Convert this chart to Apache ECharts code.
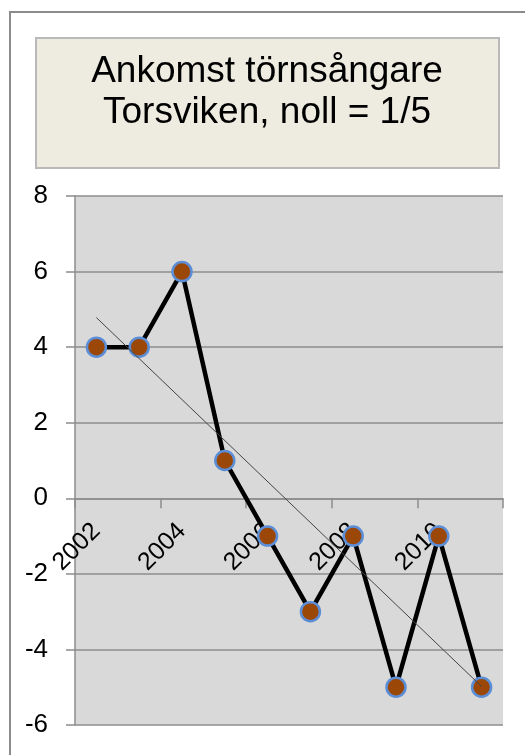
<!DOCTYPE html>
<html>
<head>
<meta charset="utf-8">
<script src="https://cdn.jsdelivr.net/npm/echarts@6/dist/echarts.min.js"></script>
<style>html,body{margin:0;padding:0;background:#fff;}#c{width:525px;height:755px;}</style>
</head>
<body>
<div id="c"></div>
<script>
const years = ['2002','2003','2004','2005','2006','2007','2008','2009','2010','2011'];
const arrival = [4, 4, 6, 1, -1, -3, -1, -5, -1, -5];
const yTicks = { min: -6, max: 8, interval: 2 };
const titleLines = ['Ankomst törnsångare', 'Torsviken, noll = 1/5'];

// least-squares linear trend of the data (as Excel's trendline)
const n = arrival.length;
const mx = (n - 1) / 2;
const my = arrival.reduce((a, b) => a + b, 0) / n;
let sxy = 0, sxx = 0;
arrival.forEach((v, i) => { sxy += (i - mx) * (v - my); sxx += (i - mx) * (i - mx); });
const slope = sxy / sxx;
const icpt = my - slope * mx;
const trend = [[0, icpt], [n - 1, icpt + slope * (n - 1)]];

const FONT = '"Liberation Sans", Arial, sans-serif';
const GRID = { left: 75, top: 196, right: 22, bottom: 30 };
const plotH = 755 - GRID.top - GRID.bottom;
// distance from bottom of plot to the zero line, so the category axis crosses at 0
const zeroOffset = -plotH * (0 - yTicks.min) / (yTicks.max - yTicks.min);

const chart = echarts.init(document.getElementById('c'), null, { renderer: 'canvas' });
chart.setOption({
  animation: false,
  backgroundColor: '#ffffff',
  graphic: [
    { type: 'rect', shape: { x: 10, y: 12, width: 700, height: 900 },
      style: { fill: 'none', stroke: '#8c8c8c', lineWidth: 2 }, z: 0 },
    { type: 'rect', shape: { x: 36, y: 38, width: 463, height: 130 },
      style: { fill: '#eeece1', stroke: '#b9b9b9', lineWidth: 2 }, z: 1 },
    { type: 'text', x: 267, y: 92, z: 2,
      style: { text: titleLines.join('\n'), font: '37px ' + FONT, fill: '#000',
               align: 'center', verticalAlign: 'middle', lineHeight: 41 } }
  ],
  grid: Object.assign({ show: true, backgroundColor: '#d9d9d9', borderWidth: 0,
          containLabel: false, outerBoundsMode: 'none' }, GRID),
  xAxis: {
    type: 'category', data: years, boundaryGap: true, position: 'bottom',
    offset: zeroOffset,
    axisLine: { onZero: false, lineStyle: { color: '#8c8c8c', width: 1.5 } },
    axisTick: { show: true, interval: 1, length: 10, lineStyle: { color: '#8c8c8c', width: 1.5 } },
    axisLabel: { interval: 1, rotate: 45, margin: 29, fontSize: 25, fontFamily: FONT, color: '#000' },
    splitLine: { show: false }
  },
  yAxis: {
    type: 'value', min: yTicks.min, max: yTicks.max, interval: yTicks.interval,
    axisLine: { show: true, onZero: false, lineStyle: { color: '#8c8c8c', width: 1.5 } },
    axisTick: { show: true, length: 9, lineStyle: { color: '#8c8c8c', width: 1.5 } },
    axisLabel: { margin: 27, fontSize: 26, fontFamily: FONT, color: '#000' },
    splitLine: { show: true, lineStyle: { color: '#8c8c8c', width: 1.5 } }
  },
  series: [
    { type: 'line', data: arrival, z: 3,
      lineStyle: { color: '#000', width: 4.5 },
      symbol: 'circle', symbolSize: 19,
      itemStyle: { color: '#9a4708', borderColor: '#5b8ed6', borderWidth: 2.5 } },
    { type: 'line', data: trend, z: 4, symbol: 'none',
      lineStyle: { color: '#444', width: 1 } }
  ]
});
</script>
</body>
</html>
